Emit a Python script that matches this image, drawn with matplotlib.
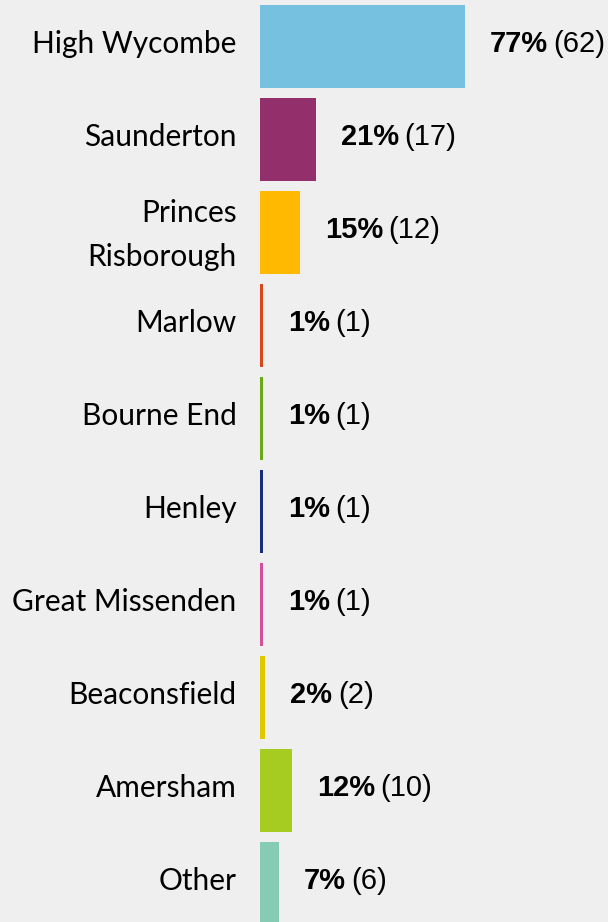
import matplotlib.pyplot as plt

# Where respondents travel from
places = ['High Wycombe', 'Saunderton', 'Princes\nRisborough', 'Marlow', 'Bourne End',
          'Henley', 'Great Missenden', 'Beaconsfield', 'Amersham', 'Other']
percent = [77, 21, 15, 1, 1, 1, 1, 2, 12, 7]
counts = [62, 17, 12, 1, 1, 1, 1, 2, 10, 6]
colors = ['#76c0e0', '#93306b', '#ffb900', '#d9461a', '#6aa818',
          '#1a2f7a', '#d24f9c', '#e0c800', '#a6cc22', '#86cbb3']

bg = '#efefef'
fig = plt.figure(figsize=(6.08, 9.22), dpi=100, facecolor=bg)
ax = fig.add_axes([260 / 608, 0, 348 / 608, 1], facecolor=bg)

y = range(len(places))
ax.barh(y, percent, height=0.89, color=colors)

ax.set_xlim(0, 130.7)
ax.set_ylim(9.414, -0.5)
ax.set_xticks([])
ax.set_yticks([])
for s in ax.spines.values():
    s.set_visible(False)

for i, name in enumerate(places):
    dy = -2 if '\n' in name else 2
    ax.annotate(name, xy=(0, i), xytext=(-17, dy), textcoords='offset points',
                fontsize=21.5, fontfamily='Lato', linespacing=1.7,
                ha='right', va='center', multialignment='right')

# bold percentage followed by the plain count
for i, (p, c) in enumerate(zip(percent, counts)):
    t = ax.annotate(f'{p}%', xy=(p, i), xytext=(18, 2), textcoords='offset points',
                    fontsize=21, fontweight='bold', fontfamily='Liberation Sans',
                    va='center', ha='left')
    ax.annotate(f'({c})', xy=(1, 0.5), xycoords=t, xytext=(4, 0),
                textcoords='offset points', fontsize=21,
                fontfamily='Liberation Sans', va='center', ha='left')

fig.savefig('out.png', dpi=100, facecolor=bg)
